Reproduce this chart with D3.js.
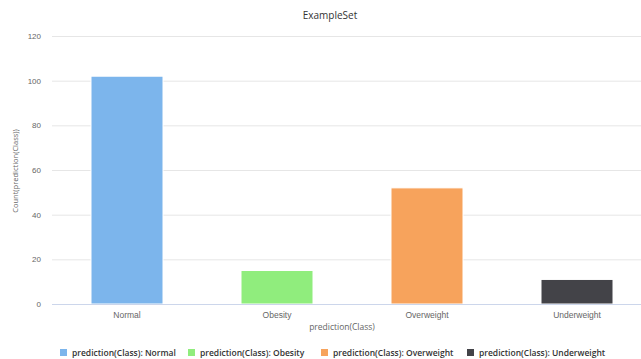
<!DOCTYPE html>
<html>
<head>
<meta charset="utf-8">
<script src="https://cdn.jsdelivr.net/npm/d3@7"></script>
<style>
  body { margin: 0; background: #fff; }
  svg { display: block; font-family: "Open Sans", "DejaVu Sans", sans-serif; }
</style>
</head>
<body>
<div id="container"></div>
<script>
// data
var categories = ["Normal", "Obesity", "Overweight", "Underweight"];
var counts = [102, 15, 52, 11];
var colors = ["#7cb5ec", "#90ed7d", "#f7a35c", "#434348"];
var yTicks = [0, 20, 40, 60, 80, 100, 120];

const width = 641;
const height = 359;
const plotLeft = 52, plotRight = 641;
const plotTop = 36, plotBottom = 304;

const svg = d3.select("div#container").append("svg")
    .attr("width", width)
    .attr("height", height);

var xScale = d3.scaleBand()
    .domain(categories)
    .range([52, 652])
    .paddingInner(0.52)
    .paddingOuter(0.26);

var yScale = d3.scaleLinear()
    .domain([0, 120])
    .range([plotBottom, plotTop]);

// title
svg.append("text")
    .attr("x", 330).attr("y", 19)
    .attr("text-anchor", "middle")
    .style("font-size", "10px")
    .style("fill", "#333")
    .text("ExampleSet");

// grid + y labels
var yaxis = d3.axisLeft(yScale)
    .tickValues(yTicks)
    .tickSize(-(plotRight - plotLeft))
    .tickPadding(11);

var gy = svg.append("g")
    .attr("transform", "translate(" + plotLeft + ",0)")
    .call(yaxis);
gy.select(".domain").remove();
gy.selectAll(".tick line").attr("stroke", "#e6e6e6");
gy.selectAll(".tick text")
    .style("font-size", "8px")
    .style("fill", "#666")
    .style("font-family", "inherit");

// bars
svg.selectAll("rect.bar")
    .data(counts)
    .enter()
    .append("rect")
    .attr("class", "bar")
    .attr("x", function(d, i) { return xScale(categories[i]); })
    .attr("width", xScale.bandwidth())
    .attr("y", function(d) { return yScale(d); })
    .attr("height", function(d) { return yScale(0) - yScale(d); })
    .attr("fill", function(d, i) { return colors[i]; })
    .attr("stroke", "#fff")
    .attr("stroke-width", 1);

// x axis
var xaxis = d3.axisBottom(xScale).tickSize(0).tickPadding(8);
var gx = svg.append("g")
    .attr("transform", "translate(0," + plotBottom + ")")
    .call(xaxis);
gx.select(".domain").remove();
gx.selectAll(".tick text")
    .style("font-size", "8.5px")
    .style("fill", "#666")
    .style("font-family", "inherit");
svg.append("line")
    .attr("x1", plotLeft).attr("x2", plotRight)
    .attr("y1", plotBottom + 0.5).attr("y2", plotBottom + 0.5)
    .attr("stroke", "#ccd6eb");

// axis titles
svg.append("text")
    .attr("x", 342).attr("y", 330)
    .attr("text-anchor", "middle")
    .style("font-size", "8.5px")
    .style("fill", "#666")
    .text("prediction(Class)");

svg.append("text")
    .attr("transform", "translate(18,171) rotate(-90)")
    .attr("text-anchor", "middle")
    .style("font-size", "7.5px")
    .style("fill", "#666")
    .text("Count(prediction(Class))");

// legend
var legendX = [60, 188, 321, 467];
var legend = svg.selectAll("g.legend")
    .data(categories)
    .enter()
    .append("g")
    .attr("class", "legend")
    .attr("transform", function(d, i) { return "translate(" + legendX[i] + ",349)"; });

legend.append("rect")
    .attr("width", 7).attr("height", 7)
    .attr("fill", function(d, i) { return colors[i]; });

legend.append("text")
    .attr("x", 12).attr("y", 6.5)
    .style("font-size", "8.5px")
    .style("font-weight", "600")
    .style("fill", "#333")
    .text(function(d) { return "prediction(Class): " + d; });
</script>
</body>
</html>
